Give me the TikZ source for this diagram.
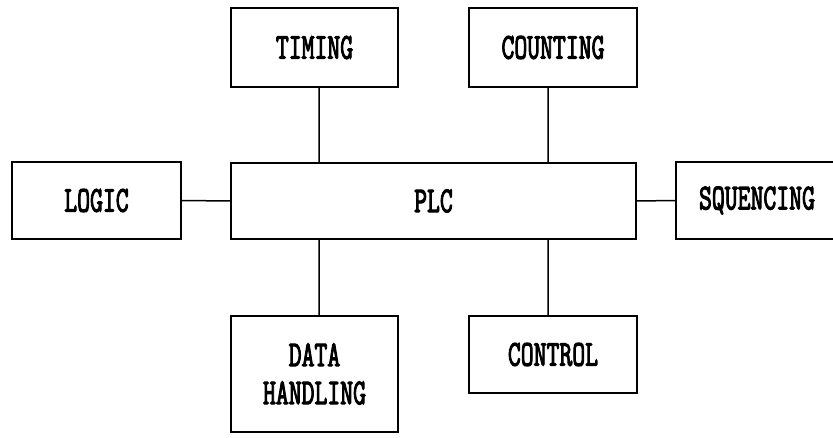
\documentclass[tikz,border=0pt]{standalone}
\usepackage{fontspec}
\newfontfamily\plcfont{Latin Modern Mono}[FakeBold=3.5]
\usepackage{tikz}
\usetikzlibrary{positioning}
\newcommand{\tallt}[1]{\scalebox{1}[1.45]{#1}}

\begin{document}
\begin{tikzpicture}[%
			x=1pt,
			y=-1pt,
			font=\fontsize{25}{38}\selectfont\plcfont,
			plcbox/.style={%
				draw,
				line width=1.7pt,
				inner sep=0pt,
				align=center
			},
			link/.style={%
				draw,
				line width=1.5pt
			}
			]
			\useasboundingbox (0,0) rectangle (833,438);
			\node[plcbox, minimum width=405pt, minimum height=76pt] (plc) at (433.5,201) {\tallt{PLC}};
			\node[plcbox, minimum width=167pt, minimum height=79pt] (timing) at (314.5,47.5) {\tallt{TIMING}};
			\node[plcbox, minimum width=168pt, minimum height=79pt] (counting) at (553,47.5) {\tallt{COUNTING}};
			\node[plcbox, minimum width=169pt, minimum height=77pt] (logic) at (96.5,200.5) {\tallt{LOGIC}};
			\node[plcbox, minimum width=162pt, minimum height=77pt] (sequencing) at (757,200.5) {\tallt{SQUENCING}};
			\node[plcbox, minimum width=167pt, minimum height=116pt] (data) at (314.5,374) {\tallt{DATA}\\\tallt{HANDLING}};
			\node[plcbox, minimum width=168pt, minimum height=77pt] (control) at (553,354.5) {\tallt{CONTROL}};

			\path[link] ([xshift=4.5pt]timing.south) -- ([xshift=4.5pt]timing.south |- plc.north)
			([xshift=-5pt]counting.south) -- ([xshift=-5pt]counting.south |- plc.north)
			(logic.east) -- (plc.west)
			(plc.east) -- (sequencing.west)
			([xshift=4.5pt]data.north) -- ([xshift=4.5pt]data.north |- plc.south)
			([xshift=-5pt]control.north) -- ([xshift=-5pt]control.north |- plc.south);
\end{tikzpicture}
\end{document}
